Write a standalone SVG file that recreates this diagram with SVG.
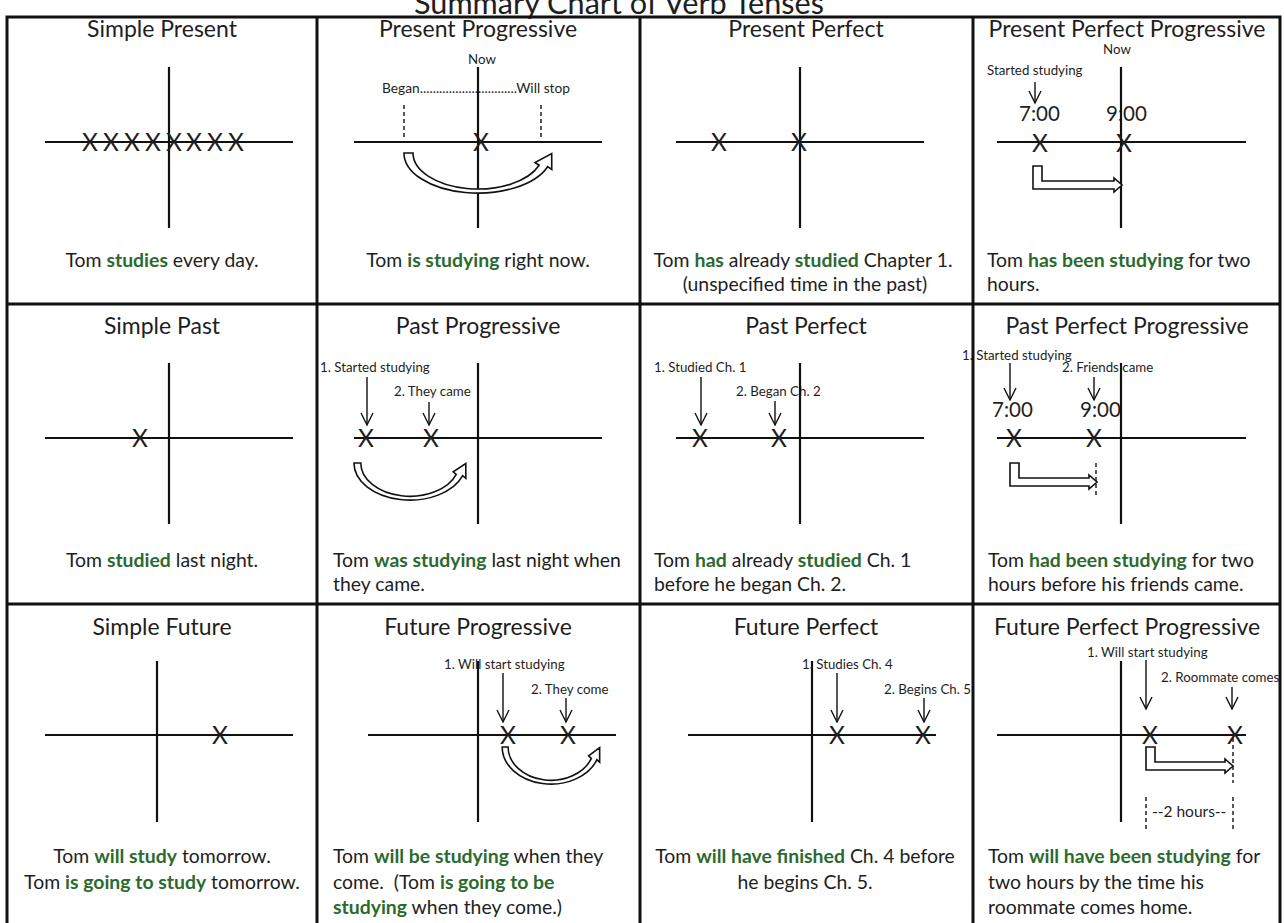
<svg xmlns="http://www.w3.org/2000/svg" width="1284" height="923" viewBox="0 0 1284 923">
<defs>
<style>
text{font-family:Lato,"Open Sans","Liberation Sans",sans-serif;fill:#1e1e1e}
.t{font-size:30px}
.hd{font-size:23px;text-anchor:middle}
.bd{font-size:19.4px}
.c{text-anchor:middle}
.g{fill:#2b6a2f;font-weight:bold}
.sm{font-size:13.3px}
.tm{font-size:20.5px}
.hr{font-size:15.5px}
.x{font-size:24.5px;text-anchor:middle}
.grid{fill:none;stroke:#111;stroke-width:3}
.ax{stroke:#111;stroke-width:2.2;fill:none}
.dn{stroke:#111;stroke-width:1.4;marker-end:url(#v)}
.ds{stroke:#111;stroke-width:1.4;stroke-dasharray:4 3}
.blk{fill:#fff;stroke:#111;stroke-width:1.6}
</style>
<marker id="v" viewBox="-14 -8 16 16" refX="0" refY="0" markerWidth="16" markerHeight="16" markerUnits="userSpaceOnUse" orient="auto"><path d="M-12 -6 L0 0 L-12 6" fill="none" stroke="#111" stroke-width="1.4"/></marker>
<path id="curve" fill="#fff" stroke="#111" stroke-width="1.6" vector-effect="non-scaling-stroke" d="M-74 0 A74 40 0 0 0 69.6 13.7 L73.75 16.5 L73.7 0.55 L57 9.5 L61.1 12.3 A65 36 0 0 1 -65 0 Z"/>
</defs>
<rect width="1284" height="923" fill="#fff"/>
<text class="t" x="619" y="14" text-anchor="middle" textLength="410" lengthAdjust="spacingAndGlyphs">Summary Chart of Verb Tenses</text>

<g id="simple-present">
<text class="hd" x="162" y="37">Simple Present</text>
<line class="ax" x1="169" y1="67" x2="169" y2="228"/>
<line class="ax" x1="45" y1="142" x2="293" y2="142"/>
<text class="x" x="90 111 132 153 174 194 215 236" y="151">XXXXXXXX</text>
<text class="bd c" x="162" y="267">Tom <tspan class="g">studies</tspan> every day.</text>
</g>

<g id="present-progressive">
<text class="hd" x="478" y="37">Present Progressive</text>
<text class="sm c" x="482" y="64">Now</text>
<text class="sm" x="382" y="93" textLength="188" lengthAdjust="spacingAndGlyphs">Began..............................Will stop</text>
<line class="ds" x1="404" y1="105" x2="404" y2="140"/>
<line class="ds" x1="541" y1="105" x2="541" y2="140"/>
<line class="ax" x1="478" y1="67" x2="478" y2="228"/>
<line class="ax" x1="354" y1="142" x2="602" y2="142"/>
<text class="x" x="481" y="151">X</text>
<use href="#curve" transform="translate(478,153)"/>
<text class="bd c" x="478" y="267">Tom <tspan class="g">is studying</tspan> right now.</text>
</g>

<g id="present-perfect">
<text class="hd" x="806" y="37">Present Perfect</text>
<line class="ax" x1="800" y1="67" x2="800" y2="228"/>
<line class="ax" x1="676" y1="142" x2="924" y2="142"/>
<text class="x" x="719 799" y="151">XX</text>
<text class="bd c" x="803" y="267">Tom <tspan class="g">has</tspan> already <tspan class="g">studied</tspan> Chapter 1.</text>
<text class="bd c" x="805" y="291">(unspecified time in the past)</text>
</g>

<g id="present-perfect-progressive">
<text class="hd" x="1127" y="37">Present Perfect Progressive</text>
<text class="sm c" x="1117" y="54">Now</text>
<text class="sm" x="987" y="75">Started studying</text>
<line class="dn" x1="1035" y1="82" x2="1035" y2="103"/>
<text class="tm" x="1019" y="121">7:00</text>
<text class="tm" x="1106" y="121">9:00</text>
<line class="ax" x1="1121" y1="67" x2="1121" y2="228"/>
<line class="ax" x1="997" y1="142" x2="1246" y2="142"/>
<text class="x" x="1040 1124" y="152">XX</text>
<path class="blk" d="M1033 166 H1042 V181 H1114 V178 L1122 185 L1114 192 V189 H1033 Z"/>
<text class="bd" x="987" y="267">Tom <tspan class="g">has been studying</tspan> for two</text>
<text class="bd" x="987" y="291">hours.</text>
</g>

<g id="simple-past">
<text class="hd" x="162" y="334">Simple Past</text>
<line class="ax" x1="169" y1="363" x2="169" y2="524"/>
<line class="ax" x1="45" y1="438" x2="293" y2="438"/>
<text class="x" x="140" y="447">X</text>
<text class="bd c" x="162" y="567">Tom <tspan class="g">studied</tspan> last night.</text>
</g>

<g id="past-progressive">
<text class="hd" x="478" y="334">Past Progressive</text>
<text class="sm" x="320" y="372">1. Started studying</text>
<line class="dn" x1="367" y1="377" x2="367" y2="425"/>
<text class="sm" x="394" y="396">2. They came</text>
<line class="dn" x1="429" y1="402" x2="429" y2="425"/>
<line class="ax" x1="478" y1="363" x2="478" y2="524"/>
<line class="ax" x1="354" y1="438" x2="602" y2="438"/>
<text class="x" x="366 431" y="447">XX</text>
<use href="#curve" transform="translate(410,463) scale(0.757,0.925)"/>
<text class="bd" x="333" y="567">Tom <tspan class="g">was studying</tspan> last night when</text>
<text class="bd" x="333" y="591">they came.</text>
</g>

<g id="past-perfect">
<text class="hd" x="806" y="334">Past Perfect</text>
<text class="sm" x="654" y="372">1. Studied Ch. 1</text>
<line class="dn" x1="701" y1="377" x2="701" y2="425"/>
<text class="sm" x="736" y="396">2. Began Ch. 2</text>
<line class="dn" x1="775" y1="401" x2="775" y2="425"/>
<line class="ax" x1="800" y1="363" x2="800" y2="524"/>
<line class="ax" x1="676" y1="438" x2="924" y2="438"/>
<text class="x" x="700 779" y="447">XX</text>
<text class="bd" x="654" y="567">Tom <tspan class="g">had</tspan> already <tspan class="g">studied</tspan> Ch. 1</text>
<text class="bd" x="654" y="591">before he began Ch. 2.</text>
</g>

<g id="past-perfect-progressive">
<text class="hd" x="1127" y="334">Past Perfect Progressive</text>
<text class="sm" x="962" y="360">1. Started studying</text>
<line class="dn" x1="1010" y1="363" x2="1010" y2="400"/>
<text class="sm" x="1062" y="372">2. Friends came</text>
<line class="dn" x1="1094" y1="377" x2="1094" y2="400"/>
<text class="tm" x="992" y="417">7:00</text>
<text class="tm" x="1080" y="417">9:00</text>
<line class="ax" x1="1121" y1="363" x2="1121" y2="524"/>
<line class="ax" x1="997" y1="438" x2="1246" y2="438"/>
<text class="x" x="1014 1094" y="447">XX</text>
<path class="blk" d="M1010 463 H1019 V478 H1089 V475 L1097 482 L1089 489 V486 H1010 Z"/>
<line class="ds" x1="1096" y1="463" x2="1096" y2="498"/>
<text class="bd" x="988" y="567">Tom <tspan class="g">had been studying</tspan> for two</text>
<text class="bd" x="988" y="591">hours before his friends came.</text>
</g>

<g id="simple-future">
<text class="hd" x="162" y="635">Simple Future</text>
<line class="ax" x1="157" y1="661" x2="157" y2="822"/>
<line class="ax" x1="45" y1="735" x2="293" y2="735"/>
<text class="x" x="220" y="744">X</text>
<text class="bd c" x="162" y="863">Tom <tspan class="g">will study</tspan> tomorrow.</text>
<text class="bd c" x="162" y="889">Tom <tspan class="g">is going to study</tspan> tomorrow.</text>
</g>

<g id="future-progressive">
<text class="hd" x="478" y="635">Future Progressive</text>
<text class="sm" x="444" y="669">1. Will start studying</text>
<line class="dn" x1="503" y1="673" x2="503" y2="722"/>
<text class="sm" x="531" y="694">2. They come</text>
<line class="dn" x1="566" y1="698" x2="566" y2="722"/>
<line class="ax" x1="478" y1="661" x2="478" y2="822"/>
<line class="ax" x1="368" y1="735" x2="616" y2="735"/>
<text class="x" x="508 568" y="744">XX</text>
<use href="#curve" transform="translate(551,747) scale(0.66,0.925)"/>
<text class="bd" x="333" y="863">Tom <tspan class="g">will be studying</tspan> when they</text>
<text class="bd" x="333" y="889">come.&#160; (Tom <tspan class="g">is going to be</tspan></text>
<text class="bd" x="333" y="914"><tspan class="g">studying</tspan> when they come.)</text>
</g>

<g id="future-perfect">
<text class="hd" x="806" y="635">Future Perfect</text>
<text class="sm" x="802" y="669">1. Studies Ch. 4</text>
<line class="dn" x1="837" y1="673" x2="837" y2="722"/>
<text class="sm" x="884" y="694">2. Begins Ch. 5</text>
<line class="dn" x1="924" y1="698" x2="924" y2="722"/>
<line class="ax" x1="812" y1="661" x2="812" y2="822"/>
<line class="ax" x1="688" y1="735" x2="936" y2="735"/>
<text class="x" x="837 923" y="744">XX</text>
<text class="bd c" x="805" y="863">Tom <tspan class="g">will have finished</tspan> Ch. 4 before</text>
<text class="bd c" x="805" y="889">he begins Ch. 5.</text>
</g>

<g id="future-perfect-progressive">
<text class="hd" x="1127" y="635">Future Perfect Progressive</text>
<text class="sm" x="1087" y="657">1. Will start studying</text>
<line class="dn" x1="1146" y1="660" x2="1146" y2="709"/>
<text class="sm" x="1161" y="682">2. Roommate comes</text>
<line class="dn" x1="1232" y1="687" x2="1232" y2="709"/>
<line class="ax" x1="1121" y1="661" x2="1121" y2="822"/>
<line class="ax" x1="997" y1="735" x2="1246" y2="735"/>
<text class="x" x="1150 1235" y="744">XX</text>
<path class="blk" d="M1146 747 H1155 V762 H1225 V759 L1233 766 L1225 773 V770 H1146 Z"/>
<line class="ds" x1="1233" y1="738" x2="1233" y2="783"/>
<line class="ds" x1="1146" y1="797" x2="1146" y2="832"/>
<line class="ds" x1="1233" y1="797" x2="1233" y2="832"/>
<text class="hr" x="1152" y="817">--2 hours--</text>
<text class="bd" x="988" y="863">Tom <tspan class="g">will have been studying</tspan> for</text>
<text class="bd" x="988" y="889">two hours by the time his</text>
<text class="bd" x="988" y="914">roommate comes home.</text>
</g>

<g id="grid">
<rect class="grid" x="7" y="17" width="1273" height="913"/>
<line class="grid" x1="317" y1="17" x2="317" y2="930"/>
<line class="grid" x1="640" y1="17" x2="640" y2="930"/>
<line class="grid" x1="973" y1="17" x2="973" y2="930"/>
<line class="grid" x1="7" y1="304" x2="1280" y2="304"/>
<line class="grid" x1="7" y1="604" x2="1280" y2="604"/>
</g>
</svg>
